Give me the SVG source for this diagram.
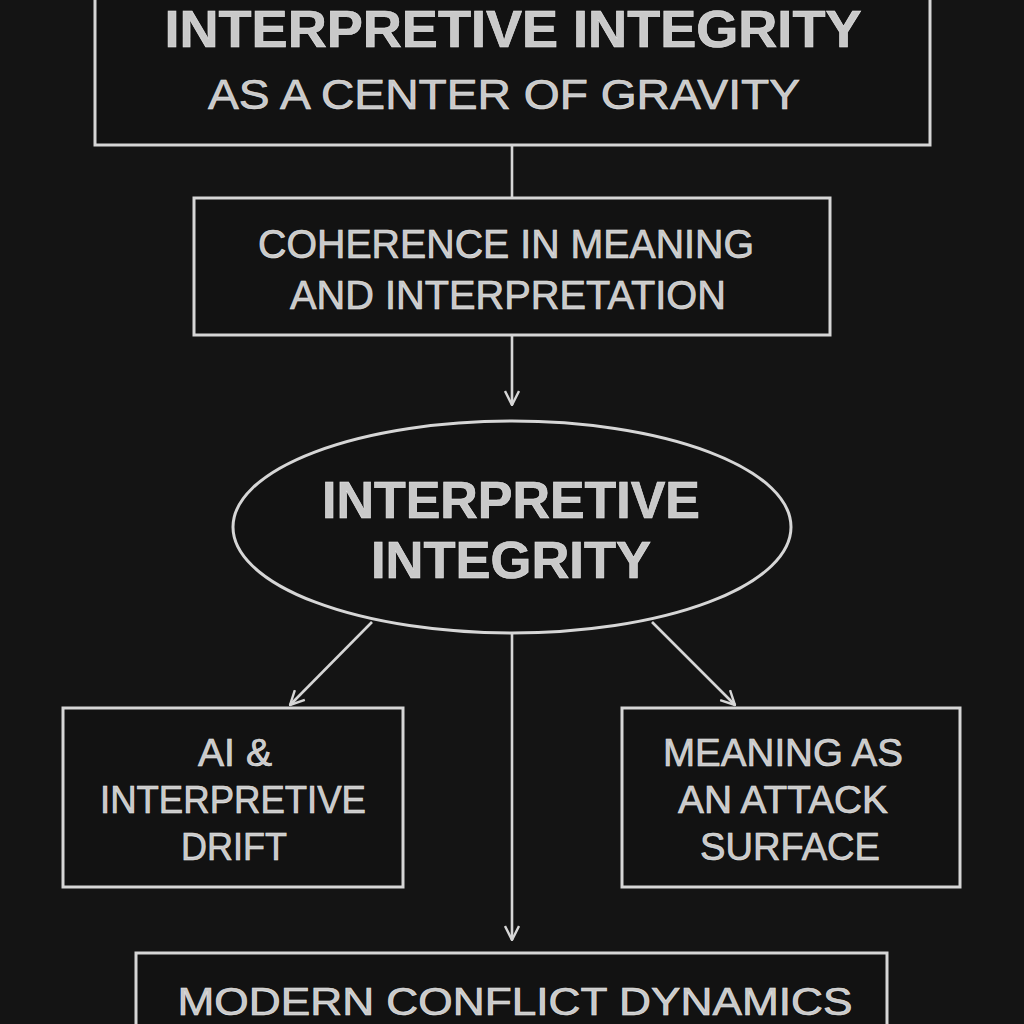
<svg xmlns="http://www.w3.org/2000/svg" width="1024" height="1024" viewBox="0 0 1024 1024">
<defs>
<style>
.box{fill:#121212;stroke:#d6d6d6;stroke-width:3}
.conn{stroke:#d6d6d6;stroke-width:2.6;fill:none}
.t{font-family:"Liberation Sans",Arial,sans-serif;fill:#c9c9c9;stroke:#e6e6e6;stroke-width:0.6;text-anchor:middle}
.b{font-weight:bold}
</style>
<marker id="arr" viewBox="0 0 16 16" refX="15" refY="8" markerWidth="16" markerHeight="16" markerUnits="userSpaceOnUse" orient="auto">
<path d="M1,1 L15,8 L1,15" fill="none" stroke="#d6d6d6" stroke-width="2.4"/>
</marker>
</defs>
<rect width="1024" height="1024" fill="#141414"/>
<g id="connectors">
<line class="conn" x1="512" y1="145" x2="512" y2="198"/>
<line class="conn" x1="512" y1="335" x2="512" y2="405" marker-end="url(#arr)"/>
<line class="conn" x1="372" y1="622" x2="290" y2="705" marker-end="url(#arr)"/>
<line class="conn" x1="652" y1="622" x2="735" y2="705" marker-end="url(#arr)"/>
<line class="conn" x1="512" y1="633" x2="512" y2="940" marker-end="url(#arr)"/>
</g>
<g id="node-top">
<rect class="box" x="95" y="-10" width="835" height="155"/>
<text class="t b" x="513" y="47" font-size="52" textLength="697" lengthAdjust="spacingAndGlyphs">INTERPRETIVE INTEGRITY</text>
<text class="t" x="504" y="109" font-size="43" textLength="592" lengthAdjust="spacingAndGlyphs">AS A CENTER OF GRAVITY</text>
</g>
<g id="node-coherence">
<rect class="box" x="194" y="198" width="636" height="137"/>
<text class="t" x="506" y="258" font-size="41" textLength="496" lengthAdjust="spacingAndGlyphs">COHERENCE IN MEANING</text>
<text class="t" x="508" y="309" font-size="41" textLength="436" lengthAdjust="spacingAndGlyphs">AND INTERPRETATION</text>
</g>
<g id="node-ellipse">
<ellipse class="box" cx="512" cy="527" rx="279" ry="106"/>
<text class="t b" x="511" y="518" font-size="52" textLength="378" lengthAdjust="spacingAndGlyphs">INTERPRETIVE</text>
<text class="t b" x="511" y="578" font-size="52" textLength="280" lengthAdjust="spacingAndGlyphs">INTEGRITY</text>
</g>
<g id="node-ai">
<rect class="box" x="63" y="708" width="340" height="179"/>
<text class="t" x="235" y="766" font-size="39" textLength="74" lengthAdjust="spacingAndGlyphs">AI &amp;</text>
<text class="t" x="233" y="813" font-size="39" textLength="266" lengthAdjust="spacingAndGlyphs">INTERPRETIVE</text>
<text class="t" x="234" y="860" font-size="39" textLength="106" lengthAdjust="spacingAndGlyphs">DRIFT</text>
</g>
<g id="node-meaning">
<rect class="box" x="622" y="708" width="338" height="179"/>
<text class="t" x="783" y="766" font-size="39" textLength="240" lengthAdjust="spacingAndGlyphs">MEANING AS</text>
<text class="t" x="783" y="813" font-size="39" textLength="210" lengthAdjust="spacingAndGlyphs">AN ATTACK</text>
<text class="t" x="790" y="860" font-size="39" textLength="180" lengthAdjust="spacingAndGlyphs">SURFACE</text>
</g>
<g id="node-modern">
<rect class="box" x="136" y="953" width="751" height="90"/>
<text class="t" x="515" y="1015" font-size="38" textLength="675" lengthAdjust="spacingAndGlyphs">MODERN CONFLICT DYNAMICS</text>
</g>
</svg>
